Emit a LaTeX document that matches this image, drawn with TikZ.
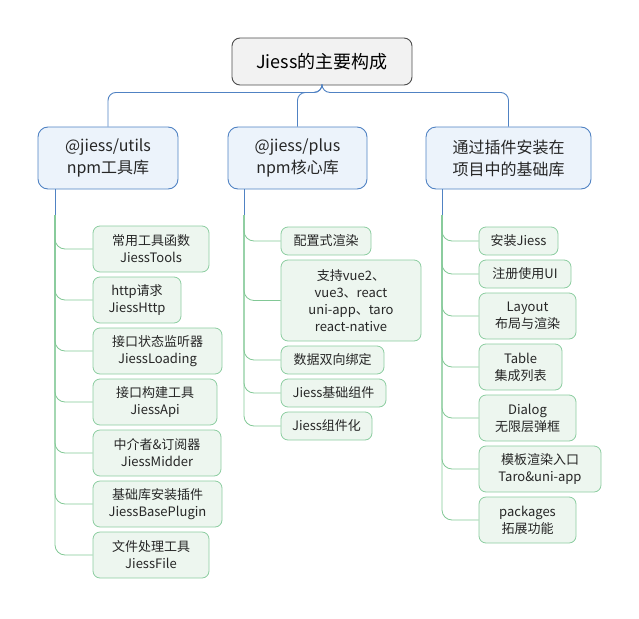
\documentclass[tikz,border=0pt]{standalone}
\usepackage{fontspec}
\setmainfont{Noto Sans CJK SC}
\begin{document}
\begin{tikzpicture}[x=1pt,y=-1pt,
  bcol/.style={},
  rootbox/.style={draw=black!70,fill=black!5,rounded corners=8,line width=0.9,font=\fontsize{18}{22}\selectfont},
  l1box/.style={draw={rgb,255:red,80;green,130;blue,195},fill={rgb,255:red,236;green,243;blue,251},rounded corners=10,line width=0.9,align=center,font=\fontsize{16}{22}\selectfont,text=black!85},
  chbox/.style={draw={rgb,255:red,140;green,205;blue,160},fill={rgb,255:red,237;green,246;blue,239},rounded corners=7,line width=0.8,align=center,font=\fontsize{13}{17}\selectfont,text=black!85},
  bline/.style={draw={rgb,255:red,80;green,130;blue,195},line width=0.9},
  gline/.style={draw={rgb,255:red,130;green,200;blue,150},line width=0.8,rounded corners=10}]
\useasboundingbox (0,0) rectangle (639,618);
\newcommand{\bx}[7]{\node[#1,minimum width={#5-#3},minimum height={#6-#4},inner sep=0] (#2) at ({(#3+#5)/2},{(#4+#6)/2}) {#7};}
\bx{rootbox}{root}{232}{38}{412}{85}{Jiess的主要构成}
\bx{l1box}{u}{38}{127}{178}{189}{@jiess/utils\\npm工具库}
\bx{l1box}{p}{228}{127}{367}{189}{@jiess/plus\\npm核心库}
\bx{l1box}{t}{426}{127}{591}{189}{通过插件安装在\\项目中的基础库}
\draw[bline,rounded corners=8] (root.south) -- ++(0,7) -| (u.north);
\draw[bline,rounded corners=8] (root.south) -- ++(0,7) -| (p.north);
\draw[bline,rounded corners=8] (root.south) -- ++(0,7) -| (t.north);
% utils children
\bx{chbox}{u1}{93}{226}{209}{272}{常用工具函数\\JiessTools}
\bx{chbox}{u2}{93}{277}{181}{323}{http请求\\JiessHttp}
\bx{chbox}{u3}{93}{328}{222}{374}{接口状态监听器\\JiessLoading}
\bx{chbox}{u4}{93}{379}{217}{425}{接口构建工具\\JiessApi}
\bx{chbox}{u5}{93}{430}{221}{476}{中介者\&订阅器\\JiessMidder}
\bx{chbox}{u6}{93}{481}{222}{527}{基础库安装插件\\JiessBasePlugin}
\bx{chbox}{u7}{93}{532}{209}{578}{文件处理工具\\JiessFile}
\coordinate (ua) at (55,215);
\draw[bline] (u.south -| ua) -- (ua);
\foreach \n in {u1,u2,u3,u4,u5,u6,u7} \draw[gline] (ua) |- (\n.west);
% plus children
\bx{chbox}{p1}{281}{227}{371}{255}{配置式渲染}
\bx{chbox}{p2}{281}{260}{421}{341}{支持vue2、\\vue3、react\\uni-app、taro\\react-native}
\bx{chbox}{p3}{281}{346}{384}{374}{数据双向绑定}
\bx{chbox}{p4}{281}{379}{386}{407}{Jiess基础组件}
\bx{chbox}{p5}{281}{412}{372}{440}{Jiess组件化}
\coordinate (pa) at (244,215);
\draw[bline] (p.south -| pa) -- (pa);
\foreach \n in {p1,p2,p3,p4,p5} \draw[gline] (pa) |- (\n.west);
% third children
\bx{chbox}{t1}{479}{227}{558}{255}{安装Jiess}
\bx{chbox}{t2}{479}{260}{571}{288}{注册使用UI}
\bx{chbox}{t3}{479}{293}{576}{339}{Layout\\布局与渲染}
\bx{chbox}{t4}{479}{344}{562}{390}{Table\\集成列表}
\bx{chbox}{t5}{479}{395}{576}{441}{Dialog\\无限层弹框}
\bx{chbox}{t6}{479}{446}{601}{492}{模板渲染入口\\Taro\&uni-app}
\bx{chbox}{t7}{479}{497}{576}{543}{packages\\拓展功能}
\coordinate (ta) at (442,215);
\draw[bline] (t.south -| ta) -- (ta);
\foreach \n in {t1,t2,t3,t4,t5,t6,t7} \draw[gline] (ta) |- (\n.west);
\end{tikzpicture}
\end{document}
